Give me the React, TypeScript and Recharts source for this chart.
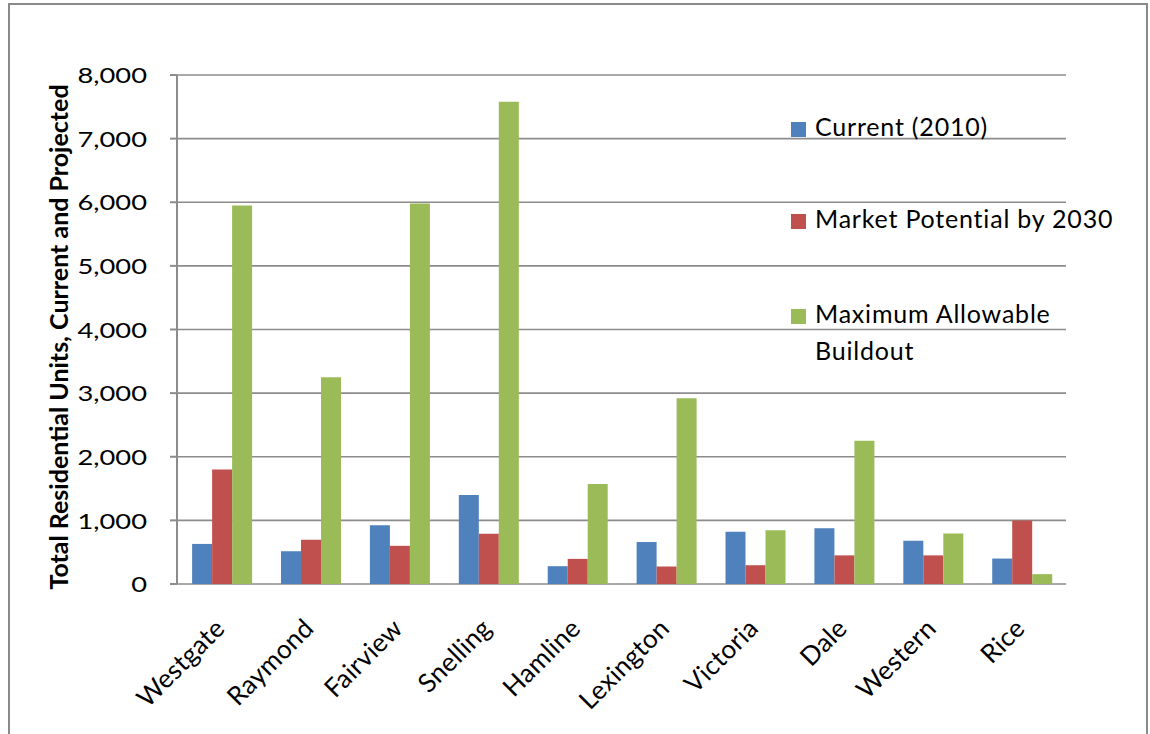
import React from 'react';
import { BarChart, Bar, XAxis, YAxis, CartesianGrid, Legend, Label } from 'recharts';

const categories = ['Westgate', 'Raymond', 'Fairview', 'Snelling', 'Hamline', 'Lexington', 'Victoria', 'Dale', 'Western', 'Rice'];
const current2010 = [630, 515, 925, 1400, 280, 660, 820, 875, 680, 400];
const market2030 = [1800, 695, 600, 790, 395, 275, 295, 450, 450, 1000];
const maxBuildout = [5950, 3250, 5980, 7580, 1570, 2920, 845, 2250, 795, 155];
const yTicks = [0, 1000, 2000, 3000, 4000, 5000, 6000, 7000, 8000];
const boundaryTicks = [0, 1, 2, 3, 4, 5, 6, 7, 8, 9, 10];

const seriesNames = ['Current (2010)', 'Market Potential by 2030', 'Maximum Allowable Buildout'];
const seriesColors = ['#4F81BD', '#C0504D', '#9BBB59'];

const data = categories.map((c, i) => ({
  name: c,
  current: current2010[i],
  market: market2030[i],
  max: maxBuildout[i],
}));

const FONT = 'Lato, "Open Sans", sans-serif';

const XTick = (props: any) => {
  const { x, payload } = props;
  return (
    <g transform={`translate(${x + 5},${584 + 46})`}>
      <text
        x={0}
        y={0}
        textAnchor="end"
        transform="rotate(-45)"
        fontFamily={FONT}
        fontSize={26}
        letterSpacing={0.3}
        fill="#000"
      >
        {payload.value}
      </text>
    </g>
  );
};

const YTick = (props: any) => {
  const { x, y, payload } = props;
  const label = Number(payload.value).toLocaleString('en-US');
  return (
    <g transform={`translate(${x - 3},${y}) scale(1.3,1)`}>
      <text x={0} y={0} textAnchor="end" dominantBaseline="central" fontFamily={FONT} fontSize={21} fill="#000">
        {label}
      </text>
    </g>
  );
};

const EmptyTick = () => <g />;

const LegendContent = (props: any) => {
  const { payload } = props;
  const tops = [0, 92, 187];
  return (
    <div style={{ position: 'relative', width: 0, height: 0, fontFamily: FONT, fontSize: 25, letterSpacing: 0.8, color: '#000' }}>
      {(payload || []).map((p: any, i: number) => (
        <div key={i} style={{ position: 'absolute', left: 0, top: tops[i], display: 'flex', alignItems: 'flex-start', width: 360 }}>
          <div style={{ width: 15, height: 15, background: p.color, marginTop: 7, marginRight: 9, flex: 'none' }} />
          <div style={{ width: 312, lineHeight: '37px', marginTop: -7 }}>{p.value}</div>
        </div>
      ))}
    </div>
  );
};

export default function App() {
  return (
    <div style={{ position: 'absolute', left: 0, top: 0, width: 1150, height: 734, background: '#fff' }}>
      <div
        style={{
          position: 'absolute',
          left: 8,
          top: 3,
          width: 1140,
          height: 740,
          border: '2px solid #8a8a8a',
          boxSizing: 'border-box',
        }}
      />
      <div style={{ position: 'absolute', left: 0, top: 0 }}>
        <BarChart
          width={1150}
          height={734}
          data={data}
          margin={{ top: 75, right: 84, bottom: 30, left: 0 }}
          barCategoryGap="17%"
          barGap={0}
        >
          <CartesianGrid vertical={false} stroke="#8c8c8c" strokeWidth={1.6} />
          <XAxis
            xAxisId="bounds"
            type="number"
            domain={[0, 10]}
            ticks={boundaryTicks}
            height={0}
            axisLine={{ stroke: '#8c8c8c', strokeWidth: 2 }}
            tickLine={{ stroke: '#8c8c8c', strokeWidth: 2 }}
            tickSize={9}
            tick={<EmptyTick />}
            allowDataOverflow
          />
          <XAxis
            xAxisId="cat"
            dataKey="name"
            type="category"
            height={120}
            axisLine={false}
            tickLine={false}
            interval={0}
            tick={<XTick />}
          />
          <YAxis
            width={177}
            domain={[0, 8000]}
            ticks={yTicks}
            axisLine={{ stroke: '#8c8c8c', strokeWidth: 2 }}
            tickLine={{ stroke: '#8c8c8c', strokeWidth: 2 }}
            tickSize={7}
            tickMargin={20}
            tick={<YTick />}
          >
            <Label
              content={() => (
                <text
                  x={58}
                  y={337}
                  transform="rotate(-90, 58, 337)"
                  textAnchor="middle"
                  dominantBaseline="central"
                  fontFamily={FONT}
                  fontWeight="bold"
                  fontSize={25}
                  fill="#000"
                >
                  Total Residential Units, Current and Projected
                </text>
              )}
            />
          </YAxis>
          <Legend
            layout="vertical"
            verticalAlign="top"
            align="right"
            wrapperStyle={{ position: 'absolute', left: 791, top: 115, width: 0, height: 0, overflow: 'visible' }}
            content={<LegendContent />}
          />
          <Bar xAxisId="cat" dataKey="current" name={seriesNames[0]} fill={seriesColors[0]} isAnimationActive={false} />
          <Bar xAxisId="cat" dataKey="market" name={seriesNames[1]} fill={seriesColors[1]} isAnimationActive={false} />
          <Bar xAxisId="cat" dataKey="max" name={seriesNames[2]} fill={seriesColors[2]} isAnimationActive={false} />
        </BarChart>
      </div>
    </div>
  );
}
